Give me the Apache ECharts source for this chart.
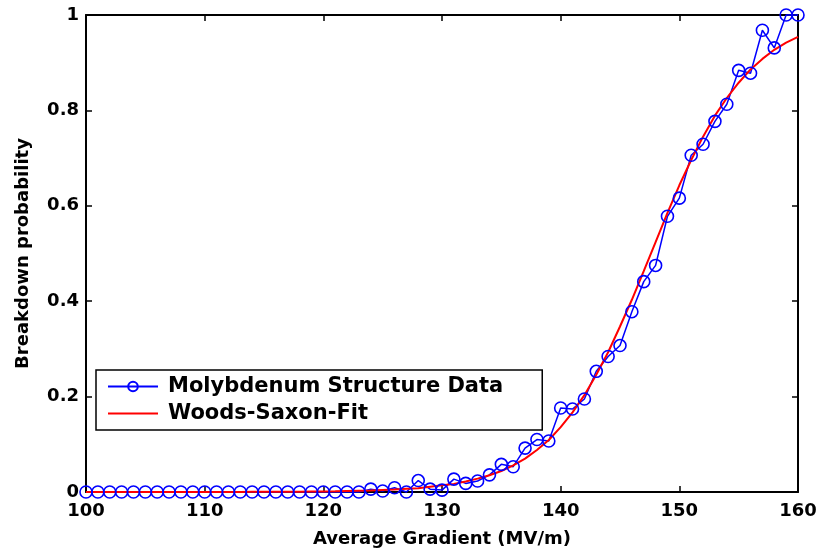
<!DOCTYPE html>
<html>
<head>
<meta charset="utf-8">
<script src="https://cdn.jsdelivr.net/npm/echarts@6/dist/echarts.min.js"></script>
<style>
  html, body { margin: 0; padding: 0; background: #fff; }
  #chart { width: 820px; height: 553px; }
</style>
</head>
<body>
<div id="chart"></div>
<script>
// 平均梯度 (MV/m)，每 1 MV/m 一點
const gradient = [];
for (let g = 100; g <= 160; g++) gradient.push(g);

// 量測的 breakdown 機率
const measured = [
  0, 0, 0, 0, 0, 0, 0, 0, 0, 0,                 // 100-109
  0, 0, 0, 0, 0, 0, 0, 0, 0, 0,                 // 110-119
  0, 0, 0, 0, 0.006, 0.002, 0.009, 0, 0.024, 0.006, // 120-129
  0.004, 0.027, 0.018, 0.023, 0.036, 0.058, 0.053, 0.092, 0.110, 0.107, // 130-139
  0.176, 0.174, 0.195, 0.253, 0.284, 0.307, 0.378, 0.441, 0.475, 0.578, // 140-149
  0.616, 0.706, 0.729, 0.777, 0.813, 0.884, 0.878, 0.968, 0.931, 1.0,   // 150-159
  1.0                                                                   // 160
];

// Woods-Saxon 擬合曲線
const fitted = [
  0, 0, 0, 0, 0, 0, 0, 0, 0, 0,                                         // 100-109
  0.0001, 0.0001, 0.0002, 0.0002, 0.0003, 0.0004, 0.0005, 0.0006, 0.0007, 0.001, // 110-119
  0.0012, 0.0015, 0.002, 0.0025, 0.003, 0.004, 0.005, 0.007, 0.008, 0.011, // 120-129
  0.014, 0.017, 0.022, 0.028, 0.035, 0.044, 0.056, 0.070, 0.088, 0.109, // 130-139
  0.136, 0.167, 0.203, 0.246, 0.293, 0.347, 0.403, 0.463, 0.524, 0.585, // 140-149
  0.643, 0.696, 0.745, 0.789, 0.826, 0.858, 0.886, 0.908, 0.927, 0.942, // 150-159
  0.954                                                                 // 160
];

const xTicks = [100, 110, 120, 130, 140, 150, 160];
const yTicks = [0, 0.2, 0.4, 0.6, 0.8, 1];

const FONT = 'DejaVu Sans';
const labelStyle = { fontFamily: FONT, fontWeight: 'bold', fontSize: 18, color: '#000' };
const lineStyleAxis = { color: '#000', width: 2 };

const chart = echarts.init(document.getElementById('chart'), null, { renderer: 'canvas' });

const option = {
  backgroundColor: '#fff',
  animation: false,
  grid: { left: 86, right: 22, top: 15, bottom: 60, containLabel: false },
  legend: {
    left: 96,
    top: 370,
    orient: 'vertical',
    itemWidth: 50,
    itemHeight: 12,
    itemGap: 6,
    padding: [6, 39, 6, 11],
    borderColor: '#000',
    borderWidth: 1.5,
    backgroundColor: '#fff',
    textStyle: { fontFamily: FONT, fontWeight: 'bold', fontSize: 21, color: '#000', padding: [0, 0, 0, 5] },
    data: [
      { name: 'Molybdenum Structure Data' },
      { name: 'Woods-Saxon-Fit', itemStyle: { color: 'rgba(0,0,0,0)', borderWidth: 0 } }
    ]
  },
  xAxis: [
    {
      type: 'value',
      min: 100, max: 160, interval: 10,
      name: 'Average Gradient (MV/m)',
      nameLocation: 'middle',
      nameGap: 38,
      nameTextStyle: labelStyle,
      axisLine: { show: true, onZero: false, lineStyle: lineStyleAxis },
      axisTick: { show: true, inside: true, length: 6, lineStyle: { color: '#000', width: 1.5 } },
      axisLabel: { ...labelStyle, margin: 10, formatter: v => xTicks.includes(v) ? String(v) : '' },
      splitLine: { show: false }
    },
    {
      type: 'value',
      position: 'top',
      min: 100, max: 160, interval: 10,
      axisLine: { show: true, onZero: false, lineStyle: lineStyleAxis },
      axisTick: { show: true, inside: true, length: 6, lineStyle: { color: '#000', width: 1.5 } },
      axisLabel: { show: false },
      splitLine: { show: false }
    }
  ],
  yAxis: [
    {
      type: 'value',
      min: 0, max: 1, interval: 0.2,
      name: 'Breakdown probability',
      nameLocation: 'middle',
      nameGap: 54,
      nameTextStyle: labelStyle,
      axisLine: { show: true, onZero: false, lineStyle: lineStyleAxis },
      axisTick: { show: true, inside: true, length: 6, lineStyle: { color: '#000', width: 1.5 } },
      axisLabel: { ...labelStyle, margin: 7, formatter: v => yTicks.some(t => Math.abs(t - v) < 1e-9) ? String(+v.toFixed(1)) : '' },
      splitLine: { show: false }
    },
    {
      type: 'value',
      position: 'right',
      min: 0, max: 1, interval: 0.2,
      axisLine: { show: true, onZero: false, lineStyle: lineStyleAxis },
      axisTick: { show: true, inside: true, length: 6, lineStyle: { color: '#000', width: 1.5 } },
      axisLabel: { show: false },
      splitLine: { show: false }
    }
  ],
  series: [
    {
      name: 'Molybdenum Structure Data',
      type: 'line',
      clip: false,
      symbol: 'circle',
      symbolSize: 12,
      showAllSymbol: true,
      lineStyle: { color: '#0000ff', width: 1.5 },
      itemStyle: { color: 'rgba(0,0,0,0)', borderColor: '#0000ff', borderWidth: 1.6 },
      data: gradient.map((g, i) => [g, measured[i]])
    },
    {
      name: 'Woods-Saxon-Fit',
      type: 'line',
      clip: false,
      symbol: 'none',
      smooth: false,
      lineStyle: { color: '#ff0000', width: 2 },
      itemStyle: { color: '#ff0000' },
      data: gradient.map((g, i) => [g, fitted[i]])
    }
  ]
};

chart.setOption(option);
</script>
</body>
</html>
